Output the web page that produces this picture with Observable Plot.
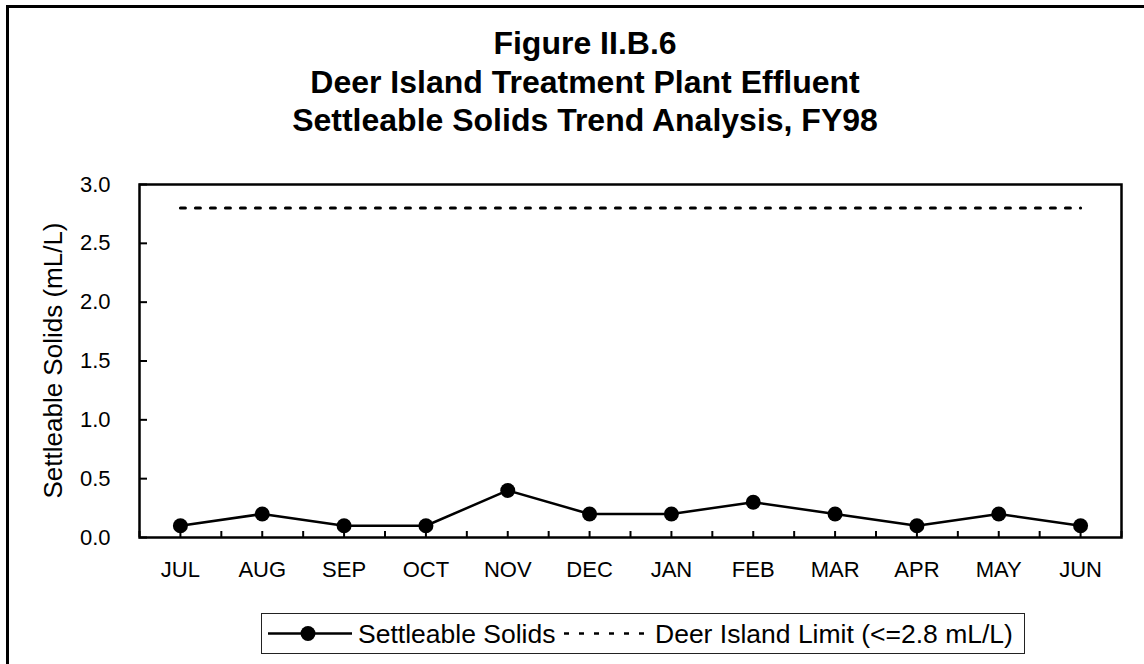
<!DOCTYPE html>
<html><head><meta charset="utf-8">
<script src="https://cdn.jsdelivr.net/npm/d3@7"></script>
<script src="https://cdn.jsdelivr.net/npm/@observablehq/plot@0.6"></script>
<style>html,body{margin:0;padding:0;background:#fff;overflow:hidden;} svg{display:block;}</style>
</head><body><div id="chart"></div>
<script>
const months = ["JUL","AUG","SEP","OCT","NOV","DEC","JAN","FEB","MAR","APR","MAY","JUN"];
const settleableSolids = [0.1,0.2,0.1,0.1,0.4,0.2,0.2,0.3,0.2,0.1,0.2,0.1];
const deerIslandLimit = [2.8,2.8,2.8,2.8,2.8,2.8,2.8,2.8,2.8,2.8,2.8,2.8];
const yTicks = [0,0.5,1.0,1.5,2.0,2.5,3.0];
const titleLines = ["Figure II.B.6","Deer Island Treatment Plant Effluent","Settleable Solids Trend Analysis, FY98"];
const seriesNames = ["Settleable Solids","Deer Island Limit (<=2.8 mL/L)"];
const yLabel = "Settleable Solids (mL/L)";

const W = 1144, H = 664;
const mL = 139, mR = 23, mT = 184, mB = 127;
const plotW = W - mL - mR, plotH = H - mT - mB;
const font = "'Liberation Sans', Arial, Helvetica, sans-serif";

const rows = months.map((m, i) => ({i, month: m, solids: settleableSolids[i], limit: deerIslandLimit[i]}));
const xTicks = d3.range(-0.5, months.length, 0.5);

const svgEl = Plot.plot({
  width: W, height: H,
  marginLeft: mL, marginRight: mR, marginTop: mT, marginBottom: mB,
  style: {fontFamily: font, fontSize: "22px", color: "black", background: "white", overflow: "hidden"},
  x: {type: "linear", domain: [-0.5, months.length - 0.5]},
  y: {domain: [0, 3]},
  marks: [
    Plot.tickY(yTicks, {y: d => d, insetRight: plotW - 8, stroke: "black", strokeWidth: 2}),
    Plot.tickX(xTicks, {x: d => d, insetTop: plotH - 6, stroke: "black", strokeWidth: 2}),
    Plot.line(rows, {x: "i", y: "limit", stroke: "black", strokeWidth: 3, strokeDasharray: "5,10"}),
    Plot.line(rows, {x: "i", y: "solids", stroke: "black", strokeWidth: 2.5}),
    Plot.dot(rows, {x: "i", y: "solids", r: 7.5, fill: "black", stroke: "none"}),
    Plot.axisY({ticks: yTicks, tickSize: 0, tickPadding: 29, tickFormat: d3.format(".1f"), label: null}),
    Plot.axisX({ticks: d3.range(months.length), tickSize: 0, tickPadding: 24, tickFormat: i => months[i], label: null}),
    Plot.frame({stroke: "black", strokeWidth: 2.5})
  ]
});

const svg = d3.select(svgEl);

// outer chart-area border
svg.append("rect").attr("x", 7.5).attr("y", 6.5).attr("width", W + 20).attr("height", H + 20)
  .attr("fill", "none").attr("stroke", "black").attr("stroke-width", 3);

// title
const baselines = [54, 92.5, 131];
titleLines.forEach((t, k) => {
  svg.append("text").attr("x", 585).attr("y", baselines[k]).attr("text-anchor", "middle")
    .attr("font-family", font).attr("font-size", 32).attr("font-weight", "bold").attr("fill", "black").text(t);
});

// y-axis title
svg.append("text").attr("transform", `translate(62,${mT + plotH / 2}) rotate(-90)`)
  .attr("text-anchor", "middle").attr("font-family", font).attr("font-size", 26).attr("fill", "black").text(yLabel);

// legend
const lg = svg.append("g").attr("text-anchor", "start");
lg.append("rect").attr("x", 261.5).attr("y", 613.5).attr("width", 763).attr("height", 40)
  .attr("fill", "white").attr("stroke", "#222").attr("stroke-width", 1);
const ly = 633.5;
lg.append("line").attr("x1", 268).attr("x2", 352).attr("y1", ly).attr("y2", ly).attr("stroke", "black").attr("stroke-width", 2.5);
lg.append("circle").attr("cx", 308).attr("cy", ly).attr("r", 7.5).attr("fill", "black");
lg.append("text").attr("x", 358).attr("y", 643).attr("text-anchor", "start").attr("font-family", font).attr("font-size", 26.5).attr("fill", "black").text(seriesNames[0]);
lg.append("line").attr("x1", 564).attr("x2", 652).attr("y1", ly).attr("y2", ly).attr("stroke", "black").attr("stroke-width", 2.5).attr("stroke-dasharray", "5,10");
lg.append("text").attr("x", 655).attr("y", 643).attr("text-anchor", "start").attr("font-family", font).attr("font-size", 26.5).attr("fill", "black").text(seriesNames[1]);

document.getElementById("chart").appendChild(svgEl);
</script>
</body></html>
